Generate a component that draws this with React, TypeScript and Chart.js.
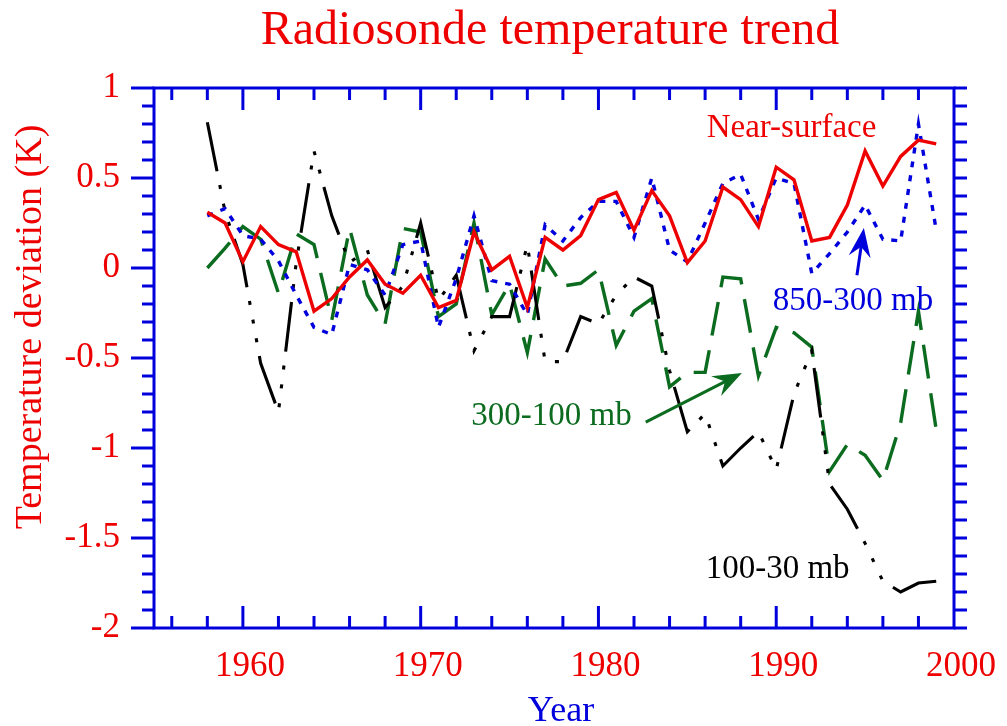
import React, { useEffect, useRef } from 'react';
import { Chart, registerables } from 'chart.js';

Chart.register(...registerables);

// ---- data ----
const years = [
  1958, 1959, 1960, 1961, 1962, 1963, 1964, 1965, 1966, 1967,
  1968, 1969, 1970, 1971, 1972, 1973, 1974, 1975, 1976, 1977,
  1978, 1979, 1980, 1981, 1982, 1983, 1984, 1985, 1986, 1987,
  1988, 1989, 1990, 1991, 1992, 1993, 1994, 1995, 1996, 1997,
  1998, 1999,
];

const nearSurface = [
  0.31, 0.25, 0.035, 0.23, 0.13, 0.09, -0.24, -0.17, -0.05, 0.045,
  -0.09, -0.14, -0.04, -0.22, -0.18, 0.2, -0.01, 0.065, -0.22, 0.17,
  0.1, 0.18, 0.38, 0.42, 0.21, 0.43, 0.29, 0.03, 0.15, 0.45,
  0.38, 0.23, 0.56, 0.49, 0.15, 0.17, 0.35, 0.65, 0.455, 0.62,
  0.71, 0.69,
];

const layer850to300 = [
  0.29, 0.33, 0.18, 0.16, 0.04, -0.15, -0.33, -0.37, 0.02, -0.01,
  -0.15, 0.13, 0.15, -0.33, -0.06, 0.29, -0.07, -0.09, -0.26, 0.24,
  0.15, 0.28, 0.37, 0.37, 0.17, 0.5, 0.1, 0.035, 0.25, 0.47,
  0.52, 0.27, 0.5, 0.47, -0.03, 0.08, 0.2, 0.35, 0.16, 0.15,
  0.8, 0.21,
];

const layer300to100 = [
  0.0, 0.11, 0.23, 0.16, -0.14, 0.19, 0.13, -0.29, 0.22, -0.15,
  -0.31, 0.22, 0.2, -0.27, -0.2, 0.25, -0.26, -0.09, -0.47, 0.05,
  -0.1, -0.085, -0.01, -0.43, -0.24, -0.17, -0.66, -0.58, -0.58, -0.05,
  -0.06, -0.6, -0.33, -0.36, -0.44, -1.13, -0.98, -1.04, -1.18, -0.86,
  -0.24, -0.9,
];

const layer100to30 = [
  0.81, 0.31, 0.02, -0.53, -0.8, 0.03, 0.65, 0.29, 0.03, 0.1,
  -0.22, -0.1, 0.25, -0.18, -0.04, -0.46, -0.27, -0.27, 0.13, -0.52,
  -0.52, -0.27, -0.31, -0.15, -0.05, -0.1, -0.57, -0.91, -0.81, -1.1,
  -1.0, -0.91, -1.12, -0.7, -0.46, -1.2, -1.34, -1.53, -1.74, -1.8,
  -1.75, -1.74,
];

const xTickValues = [1960, 1970, 1980, 1990, 2000];
const yTickValues = [1, 0.5, 0, -0.5, -1, -1.5, -2];

const X_MIN = 1955;
const X_MAX = 2000;
const Y_MIN = -2;
const Y_MAX = 1;

const TITLE = 'Radiosonde temperature trend';
const X_TITLE = 'Year';
const Y_TITLE = 'Temperature deviation (K)';

// annotation anchors in data coordinates
const labelNearSurface = { text: 'Near-surface', x: 1990.86, y: 0.728 };
const label850 = { text: '850-300 mb', x: 1994.32, y: -0.233 };
const label300 = { text: '300-100 mb', x: 1977.36, y: -0.872 };
const label100 = { text: '100-30 mb', x: 1990.08, y: -1.722 };
const arrowBlue = { x1: 1994.54, y1: -0.04, x2: 1994.93, y2: 0.222 };
const arrowGreen = { x1: 1982.66, y1: -0.856, x2: 1988.07, y2: -0.583 };

// ---- styles ----
const FONT = "'Liberation Serif', 'Times New Roman', serif";
const RED = '#ee0000';
const BLUE = '#0000dd';
const GREEN = '#0b6b1e';
const BLACK = '#000000';

function toPoints(vals: number[]) {
  return years.map((x, i) => ({ x, y: vals[i] }));
}

function drawArrow(ctx: CanvasRenderingContext2D, x1: number, y1: number, x2: number, y2: number, color: string) {
  const dx = x2 - x1;
  const dy = y2 - y1;
  const len = Math.hypot(dx, dy);
  const ux = dx / len;
  const uy = dy / len;
  const nx = -uy;
  const ny = ux;
  const headLen = 29;
  const headW = 11;
  const notch = 19;
  ctx.save();
  ctx.strokeStyle = color;
  ctx.fillStyle = color;
  ctx.lineWidth = 3;
  ctx.beginPath();
  ctx.moveTo(x1, y1);
  ctx.lineTo(x2 - ux * notch, y2 - uy * notch);
  ctx.stroke();
  ctx.beginPath();
  ctx.moveTo(x2, y2);
  ctx.lineTo(x2 - ux * headLen + nx * headW, y2 - uy * headLen + ny * headW);
  ctx.lineTo(x2 - ux * notch, y2 - uy * notch);
  ctx.lineTo(x2 - ux * headLen - nx * headW, y2 - uy * headLen - ny * headW);
  ctx.closePath();
  ctx.fill();
  ctx.restore();
}

const framePlugin = {
  id: 'frameAndNotes',
  afterDraw(chart: any) {
    const { ctx, chartArea: a, scales } = chart;
    const xs = scales.x;
    const ys = scales.y;
    ctx.save();
    ctx.strokeStyle = BLUE;
    ctx.lineWidth = 3;
    ctx.lineCap = 'butt';
    const line = (x1: number, y1: number, x2: number, y2: number) => {
      ctx.beginPath();
      ctx.moveTo(x1, y1);
      ctx.lineTo(x2, y2);
      ctx.stroke();
    };
    // x ticks (inward on top and bottom)
    for (let v = 1956; v < X_MAX; v += 2) {
      const px = xs.getPixelForValue(v);
      const len = v % 10 === 0 ? 22 : 12;
      line(px, a.bottom, px, a.bottom - len);
      line(px, a.top, px, a.top + len);
    }
    // y ticks (outward on left and right)
    for (let i = Y_MIN * 10; i <= Y_MAX * 10; i++) {
      const py = ys.getPixelForValue(i / 10);
      const len = i % 5 === 0 ? 23 : 12;
      line(a.left, py, a.left - len, py);
      line(a.right, py, a.right + 13, py);
    }
    ctx.strokeRect(a.left, a.top, a.right - a.left, a.bottom - a.top);

    // title
    ctx.textAlign = 'center';
    ctx.textBaseline = 'alphabetic';
    ctx.fillStyle = RED;
    ctx.font = `48px ${FONT}`;
    ctx.fillText(TITLE, 550, 44);

    // axis titles
    ctx.fillStyle = BLUE;
    ctx.font = `36px ${FONT}`;
    ctx.fillText(X_TITLE, 561, 721);

    ctx.save();
    ctx.translate(41, 327);
    ctx.rotate(-Math.PI / 2);
    ctx.fillStyle = RED;
    ctx.textBaseline = 'alphabetic';
    ctx.font = `38px ${FONT}`;
    ctx.fillText(Y_TITLE, 0, 0);
    ctx.restore();

    // annotations
    const note = (lab: { text: string; x: number; y: number }, color: string) => {
      ctx.fillStyle = color;
      ctx.font = `33px ${FONT}`;
      ctx.textAlign = 'center';
      ctx.textBaseline = 'alphabetic';
      ctx.fillText(lab.text, xs.getPixelForValue(lab.x), ys.getPixelForValue(lab.y));
    };
    note(labelNearSurface, RED);
    note(label850, BLUE);
    note(label300, GREEN);
    note(label100, BLACK);

    drawArrow(ctx, xs.getPixelForValue(arrowBlue.x1), ys.getPixelForValue(arrowBlue.y1),
      xs.getPixelForValue(arrowBlue.x2), ys.getPixelForValue(arrowBlue.y2), BLUE);
    drawArrow(ctx, xs.getPixelForValue(arrowGreen.x1), ys.getPixelForValue(arrowGreen.y1),
      xs.getPixelForValue(arrowGreen.x2), ys.getPixelForValue(arrowGreen.y2), GREEN);
    ctx.restore();
  },
};

export default function App() {
  const canvasRef = useRef<HTMLCanvasElement | null>(null);

  useEffect(() => {
    const canvas = canvasRef.current;
    if (!canvas) return;
    const chart = new Chart(canvas, {
      type: 'line',
      data: {
        datasets: [
          {
            label: 'Near-surface',
            data: toPoints(nearSurface),
            borderColor: RED,
            borderWidth: 3.4,
            pointRadius: 0,
          },
          {
            label: '850-300 mb',
            data: toPoints(layer850to300),
            borderColor: BLUE,
            borderWidth: 3.4,
            borderDash: [6, 8],
            pointRadius: 0,
          },
          {
            label: '100-30 mb',
            data: toPoints(layer100to30),
            borderColor: BLACK,
            borderWidth: 3.1,
            borderDash: [50, 14, 4, 15, 4, 15, 4, 14],
            pointRadius: 0,
          },
          {
            label: '300-100 mb',
            data: toPoints(layer300to100),
            borderColor: GREEN,
            borderWidth: 3.4,
            borderDash: [34, 15],
            pointRadius: 0,
          },
        ],
      },
      options: {
        animation: false,
        responsive: false,
        maintainAspectRatio: false,
        layout: { padding: { top: 88, right: 46, left: 0, bottom: 0 } },
        plugins: {
          legend: { display: false },
          title: { display: false },
          tooltip: { enabled: false },
        },
        elements: { line: { tension: 0, fill: false } },
        scales: {
          x: {
            type: 'linear',
            min: X_MIN,
            max: X_MAX,
            grid: { display: false, drawTicks: false },
            border: { display: false },
            afterBuildTicks: (s: any) => {
              s.ticks = xTickValues.map((v) => ({ value: v }));
            },
            afterFit: (s: any) => {
              s.height = 98;
            },
            ticks: {
              color: RED,
              font: { family: FONT, size: 35 },
              padding: 18,
              labelOffset: 7,
              maxRotation: 0,
              autoSkip: false,
              callback: (v: any) => String(v),
            },
          },
          y: {
            type: 'linear',
            min: Y_MIN,
            max: Y_MAX,
            grid: { display: false, drawTicks: false },
            border: { display: false },
            afterBuildTicks: (s: any) => {
              s.ticks = yTickValues.map((v) => ({ value: v }));
            },
            afterFit: (s: any) => {
              s.width = 154;
            },
            ticks: {
              color: RED,
              font: { family: FONT, size: 35 },
              padding: 34,
              autoSkip: false,
              callback: (v: any) => String(v),
            },
          },
        },
      },
      plugins: [framePlugin],
    } as any);
    return () => chart.destroy();
  }, []);

  return (
    <div style={{ position: 'fixed', left: 0, top: 0, width: 1007, height: 726, background: '#ffffff' }}>
      <canvas ref={canvasRef} width={1007} height={726} style={{ display: 'block' }} />
    </div>
  );
}
